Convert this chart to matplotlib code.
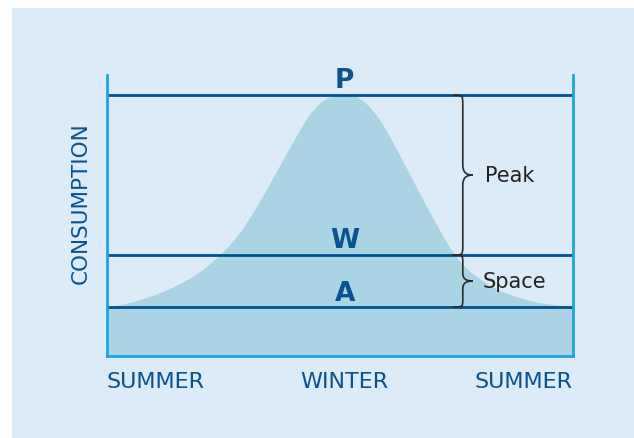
import matplotlib
matplotlib.use("Agg")
import matplotlib.pyplot as plt
from matplotlib.path import Path
from matplotlib.patches import PathPatch, Rectangle

# ---- data ----
season_pos = [0, 51, 100]
season_labels = ["SUMMER", "WINTER", "SUMMER"]

# share of the year (0..100) and consumption (relative, peak = 100)
t = [0.0, 2.4, 6.7, 11.0, 15.3, 19.6, 24.2, 28.2, 31.8, 36.4, 40.0,
     43.6, 47.1, 50.7, 54.3, 57.9, 61.4, 65.0, 69.7, 74.3, 78.6, 84.3,
     91.5, 98.6, 100.0]
consumption = [18.8, 19.3, 21.2, 23.8, 27.2, 31.7, 38.4, 46.3, 56.0, 70.4,
               81.9, 92.5, 98.5, 100.0, 98.5, 92.1, 81.9, 69.6, 53.8, 39.7,
               31.4, 25.0, 20.8, 19.0, 18.8]

level_names = ["P", "W", "A"]
level_values = [100.0, 38.7, 18.8]
brace_labels = ["Peak", "Space"]

# ---- style ----
BG = "#dbecf8"
FILL = "#aad3e3"
LINE = "#00508c"
SPINE = "#1ea3e0"
TXT = "#0b528f"

fig = plt.figure(figsize=(6.34, 4.39), dpi=100)
fig.patch.set_facecolor("white")
fig.patches.append(Rectangle((12 / 634, 0), 1 - 12 / 634, 1 - 9 / 439,
                             transform=fig.transFigure, facecolor=BG,
                             edgecolor="none", zorder=-10))

ax = fig.add_axes([107 / 634, 82 / 439, 466 / 634, 281 / 439])
ax.set_facecolor("none")
ax.set_xlim(0, 100)
ax.set_ylim(0, 107.7)

P, W, A = level_values

# filled base band
ax.fill_between([0, 100], 0, A, color=FILL, lw=0, zorder=1)

# smooth curve drawn as cubic Bezier segments through the read points
pts = list(zip(t, consumption))
verts = [(t[0], A), pts[0]]
codes = [Path.MOVETO, Path.LINETO]
n = len(pts)
for i in range(n - 1):
    p0 = pts[i - 1] if i > 0 else pts[i]
    p1 = pts[i]
    p2 = pts[i + 1]
    p3 = pts[i + 2] if i + 2 < n else pts[i + 1]
    c1 = (p1[0] + (p2[0] - p0[0]) / 6, p1[1] + (p2[1] - p0[1]) / 6)
    c2 = (p2[0] - (p3[0] - p1[0]) / 6, p2[1] - (p3[1] - p1[1]) / 6)
    verts += [c1, c2, p2]
    codes += [Path.CURVE4] * 3
verts += [(t[-1], A), (t[0], A)]
codes += [Path.LINETO, Path.CLOSEPOLY]
ax.add_patch(PathPatch(Path(verts, codes), facecolor=FILL, edgecolor="none",
                       zorder=1))

# level lines
for v in level_values:
    ax.axhline(v, color=LINE, lw=2, zorder=3)

# level letters
letter_y = [103.0, 41.8, 21.5]
for name, y in zip(level_names, letter_y):
    ax.text(51, y, name, ha="center", va="baseline", fontsize=19,
            fontweight="bold", color=TXT, zorder=4)

# braces
def brace(lo, hi, x0, w, d):
    mid = (lo + hi) / 2
    xm = x0 + w * 0.5
    bv = [
        (x0, hi),
        (xm, hi), (xm, hi), (xm, hi - d),
        (xm, mid + d),
        (xm, mid + d * 0.3), (xm + w * 0.15, mid), (x0 + w, mid),
        (xm + w * 0.15, mid), (xm, mid - d * 0.3), (xm, mid - d),
        (xm, lo + d),
        (xm, lo), (xm, lo), (x0, lo),
    ]
    bc = [Path.MOVETO,
          Path.CURVE4, Path.CURVE4, Path.CURVE4,
          Path.LINETO,
          Path.CURVE4, Path.CURVE4, Path.CURVE4,
          Path.CURVE4, Path.CURVE4, Path.CURVE4,
          Path.LINETO,
          Path.CURVE4, Path.CURVE4, Path.CURVE4]
    ax.add_patch(PathPatch(Path(bv, bc), facecolor="none",
                           edgecolor="#2a2a2a", lw=1.2, zorder=5,
                           clip_on=False))

brace(W, P, 74.2, 4.3, 4.0)
brace(A, W, 74.2, 4.3, 3.0)
ax.text(81.1, (W + P) / 2, brace_labels[0], ha="left", va="center",
        fontsize=15, color="#222222", zorder=5)
ax.text(80.7, (A + W) / 2, brace_labels[1], ha="left", va="center",
        fontsize=15, color="#222222", zorder=5)

# spines
for s in ["left", "right", "bottom"]:
    ax.spines[s].set_color(SPINE)
    ax.spines[s].set_linewidth(2)
    ax.spines[s].set_zorder(6)
ax.spines["top"].set_visible(False)

ax.set_yticks([])
ax.set_xticks(season_pos)
ax.set_xticklabels(season_labels, fontsize=16, color=TXT)
ax.tick_params(axis="x", length=0, pad=11)
labels = ax.get_xticklabels()
labels[0].set_ha("left")
labels[1].set_ha("center")
labels[2].set_ha("right")

fig.text(81 / 634, 1 - 203 / 439, "CONSUMPTION", rotation=90,
         ha="center", va="center", fontsize=15.5, color=TXT)

fig.savefig("out.png", dpi=100)
